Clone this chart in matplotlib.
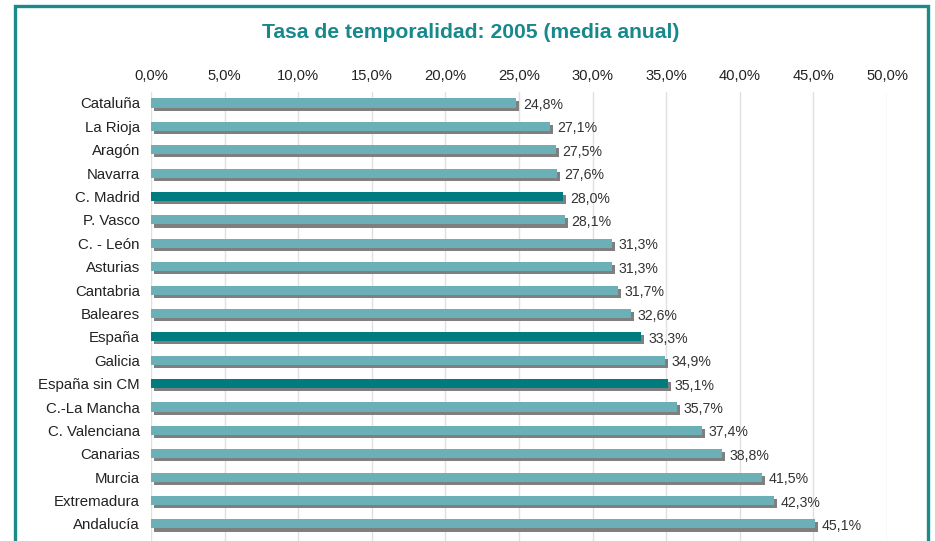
import matplotlib.pyplot as plt
from matplotlib.patches import Rectangle
import matplotlib.patheffects as pe

# Datos
regiones = ['Cataluña', 'La Rioja', 'Aragón', 'Navarra', 'C. Madrid', 'P. Vasco',
            'C. - León', 'Asturias', 'Cantabria', 'Baleares', 'España', 'Galicia',
            'España sin CM', 'C.-La Mancha', 'C. Valenciana', 'Canarias', 'Murcia',
            'Extremadura', 'Andalucía']
tasas = [24.8, 27.1, 27.5, 27.6, 28.0, 28.1, 31.3, 31.3, 31.7, 32.6, 33.3, 34.9,
         35.1, 35.7, 37.4, 38.8, 41.5, 42.3, 45.1]
destacadas = ['C. Madrid', 'España', 'España sin CM']
ticks = [0, 5, 10, 15, 20, 25, 30, 35, 40, 45, 50]

plt.rcParams['font.family'] = ['Liberation Sans', 'DejaVu Sans']

fig = plt.figure(figsize=(9.35, 5.41), dpi=100)
ax = fig.add_axes([151 / 935, 0, 736 / 935, 449 / 541])

colores = ['#007b80' if r in destacadas else '#6cb0b7' for r in regiones]
y = list(range(len(regiones)))
bars = ax.barh(y, tasas, height=0.39, color=colores, zorder=3)
for b in bars:
    b.set_path_effects([pe.SimplePatchShadow(offset=(2.2, -2.2), shadow_rgbFace='#7f7f7f', alpha=1),
                        pe.Normal()])

for yi, v in zip(y, tasas):
    ax.annotate(f"{v:.1f}%".replace('.', ','), (v, yi), xytext=(5, -1.5),
                textcoords='offset points', va='center', ha='left',
                fontsize=10.2, color='#333333')

ax.set_xlim(0, 50)
ax.set_ylim(len(regiones) - 0.27, -0.47)
ax.set_yticks(y)
ax.set_yticklabels(regiones, fontsize=10.8, color='#222222')
ax.set_xticks(ticks)
ax.set_xticklabels([f"{t:.1f}%".replace('.', ',') for t in ticks], fontsize=10.6, color='#222222')
ax.xaxis.tick_top()
ax.tick_params(axis='both', length=0)
ax.tick_params(axis='x', pad=6.5)
ax.tick_params(axis='y', pad=8)
ax.grid(axis='x', color='#e0e0e0', linewidth=1, zorder=0)
for s in ax.spines.values():
    s.set_visible(False)

fig.text(471 / 935, 1 - 33 / 541, 'Tasa de temporalidad: 2005 (media anual)',
         ha='center', va='center', fontsize=15.2, fontweight='bold', color='#17898c')

# Marco
fig.patches.append(Rectangle((15 / 935, -0.1), 913 / 935, 1.1 - 6 / 541,
                             transform=fig.transFigure, fill=False,
                             edgecolor='#1a8a8d', linewidth=2.4))

fig.savefig('out.png', dpi=100)
